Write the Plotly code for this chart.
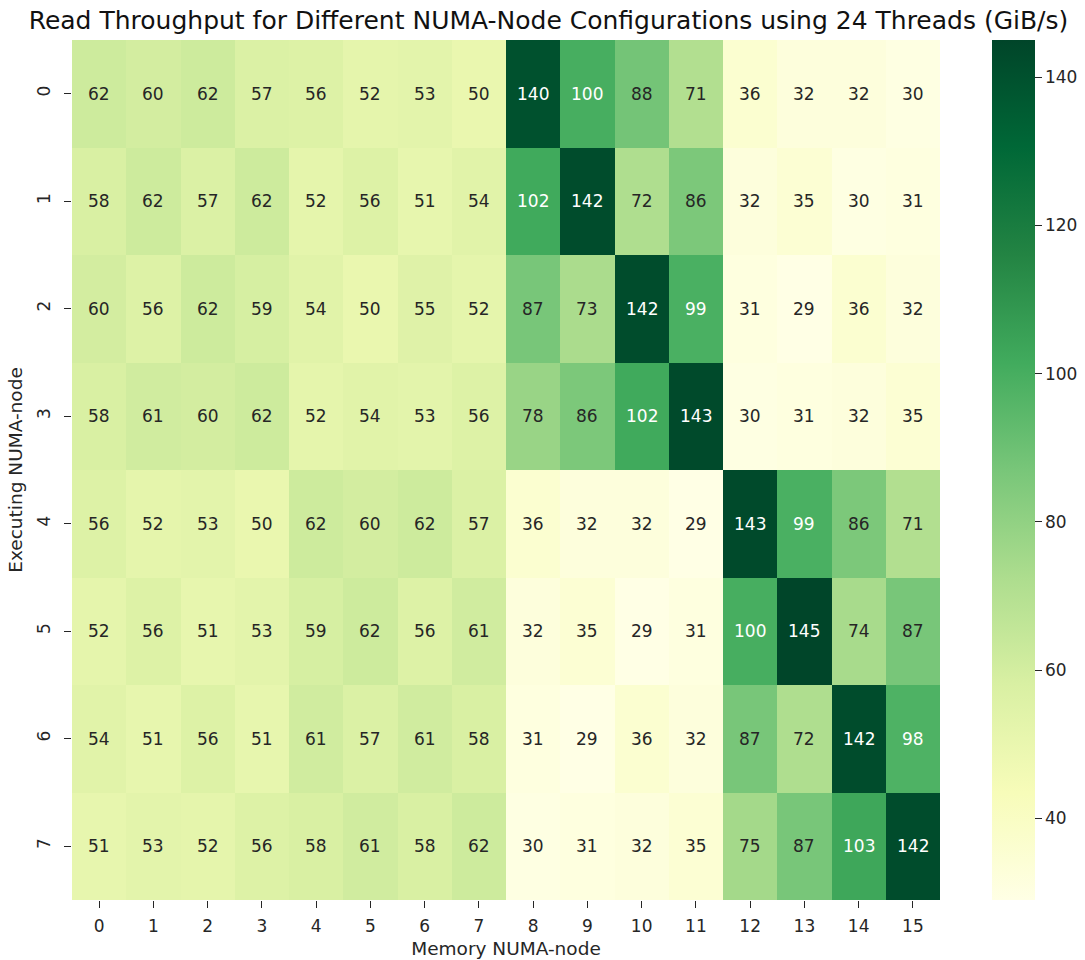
import plotly.graph_objects as go

memory_nodes = list(range(16))
exec_nodes = list(range(8))

row0 = [62, 60, 62, 57, 56, 52, 53, 50, 140, 100, 88, 71, 36, 32, 32, 30]
row1 = [58, 62, 57, 62, 52, 56, 51, 54, 102, 142, 72, 86, 32, 35, 30, 31]
row2 = [60, 56, 62, 59, 54, 50, 55, 52, 87, 73, 142, 99, 31, 29, 36, 32]
row3 = [58, 61, 60, 62, 52, 54, 53, 56, 78, 86, 102, 143, 30, 31, 32, 35]
row4 = [56, 52, 53, 50, 62, 60, 62, 57, 36, 32, 32, 29, 143, 99, 86, 71]
row5 = [52, 56, 51, 53, 59, 62, 56, 61, 32, 35, 29, 31, 100, 145, 74, 87]
row6 = [54, 51, 56, 51, 61, 57, 61, 58, 31, 29, 36, 32, 87, 72, 142, 98]
row7 = [51, 53, 52, 56, 58, 61, 58, 62, 30, 31, 32, 35, 75, 87, 103, 142]
z = [row0, row1, row2, row3, row4, row5, row6, row7]

colorbar_ticks = [40, 60, 80, 100, 120, 140]

ylgn = [
    [0.0, "#ffffe5"], [0.125, "#f7fcb9"], [0.25, "#d9f0a3"], [0.375, "#addd8e"],
    [0.5, "#78c679"], [0.625, "#41ab5d"], [0.75, "#238443"], [0.875, "#006837"],
    [1.0, "#004529"],
]

FONT = "DejaVu Sans"
TXT = "#262626"

L, R, T, B = 72, 1085 - 940, 40, 60
plot_w = 1085 - L - R

fig = go.Figure(go.Heatmap(
    z=z, x=memory_nodes, y=exec_nodes,
    colorscale=ylgn, zmin=29, zmax=145,
    xgap=0, ygap=0,
    colorbar=dict(
        thickness=43, thicknessmode="pixels",
        len=1.0, lenmode="fraction", y=0.5, yanchor="middle", ypad=0,
        x=(992 - L) / plot_w, xanchor="left", xpad=0,
        outlinewidth=0,
        tickvals=colorbar_ticks, ticks="outside", ticklen=7, tickcolor=TXT,
        tickfont=dict(family=FONT, size=17, color=TXT),
    ),
))

annotations = []
for i, row in enumerate(z):
    for j, v in enumerate(row):
        annotations.append(dict(
            x=memory_nodes[j], y=exec_nodes[i], text=str(v), showarrow=False,
            font=dict(family=FONT, size=17, color="white" if v >= 95 else TXT),
            xref="x", yref="y",
        ))

fig.update_layout(
    width=1085, height=960,
    margin=dict(l=L, r=R, t=T, b=B, autoexpand=False),
    paper_bgcolor="white", plot_bgcolor="white",
    font=dict(family=FONT, color=TXT),
    title=dict(
        text="Read Throughput for Different NUMA-Node Configurations using 24 Threads (GiB/s)",
        x=(22 + 1075) / 2 / 1085, xanchor="center", y=1 - 20 / 960, yanchor="middle",
        font=dict(family=FONT, size=25, color="#111111"),
    ),
    annotations=annotations,
    xaxis=dict(
        tickvals=memory_nodes, ticktext=[str(v) for v in memory_nodes],
        ticks="outside", ticklen=7, tickcolor=TXT, showgrid=False, zeroline=False,
        tickfont=dict(family=FONT, size=17, color=TXT), automargin=False,
        ticklabelstandoff=4,
        title=dict(text="Memory NUMA-node", font=dict(family=FONT, size=18.5, color=TXT), standoff=6),
    ),
    yaxis=dict(
        tickvals=exec_nodes, ticktext=[str(v) for v in exec_nodes],
        autorange="reversed",
        ticks="outside", ticklen=7, tickcolor=TXT, showgrid=False, zeroline=False,
        tickangle=-90, automargin=False, ticklabelstandoff=7,
        tickfont=dict(family=FONT, size=17, color=TXT),
        title=dict(text="Executing NUMA-node", font=dict(family=FONT, size=18.5, color=TXT), standoff=6),
    ),
)

fig.write_html("out.html", config={"displayModeBar": False},
               post_script="document.body.style.margin='0';")
